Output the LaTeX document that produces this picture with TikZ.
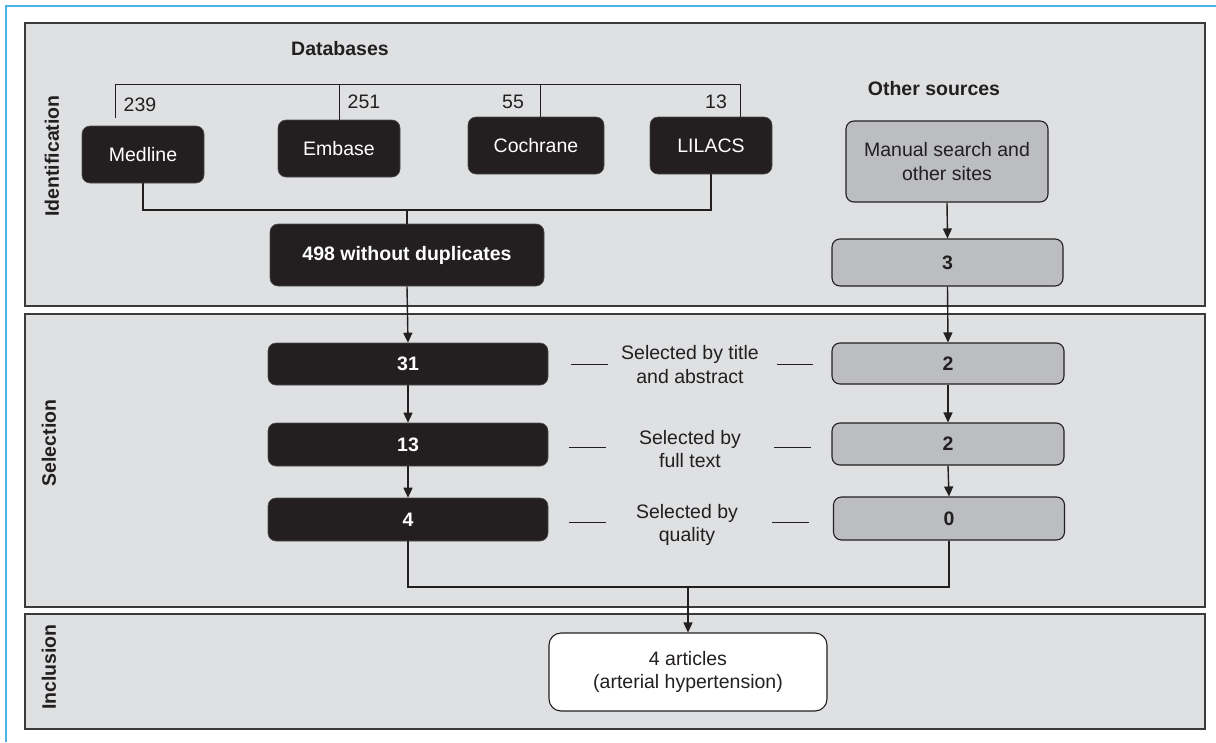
\documentclass[tikz,border=0pt]{standalone}
\usepackage{fontspec}
\setmainfont{Liberation Sans}
\usetikzlibrary{arrows.meta,calc}
\definecolor{panelfill}{HTML}{DFE0E2}
\definecolor{panelline}{HTML}{3A3A3A}
\definecolor{ink}{HTML}{231F20}
\definecolor{greybox}{HTML}{BCBDC0}
\definecolor{frameblue}{HTML}{4DB3E6}
\begin{document}
\begin{tikzpicture}[x=1pt,y=-1pt,
  every node/.style={font=\fontsize{19.5}{23.5}\selectfont, text=ink, inner sep=0pt},
  panel/.style={fill=panelfill, draw=panelline, line width=1.6pt},
  blackbox/.style={rectangle, rounded corners=8pt, fill=ink, draw=ink!80!white, line width=0.6pt, text=white},
  greyrbox/.style={rectangle, rounded corners=8pt, fill=greybox, draw=ink, line width=1.1pt},
  whitebox/.style={rectangle, rounded corners=12pt, fill=white, draw=ink, line width=1.1pt, align=center},
  phase/.style={rotate=90, font=\fontsize{19.5}{23.5}\selectfont\bfseries},
  heading/.style={font=\fontsize{19.5}{23.5}\selectfont\bfseries},
  numbold/.style={font=\fontsize{19.5}{23.5}\selectfont\bfseries},
  conn/.style={draw=ink, line width=1.4pt},
  arr/.style={conn, -{Triangle[length=10pt,width=9pt]}},
  thin/.style={draw=ink, line width=1pt},
  steplabel/.style={align=center}
]
\useasboundingbox (0,0) rectangle (1216,742);
\fill[white] (0,0) rectangle (1216,742);
% blue frame (top and left)
\draw[frameblue, line width=2pt] (6,742) -- (6,6) -- (1216,6);

% panels
\draw[panel] (25,23) rectangle (1205,306);
\draw[panel] (25,314) rectangle (1205,607);
\draw[panel] (25,614) rectangle (1205,729);

% phase labels
\node[phase] (pid) at (52,156) {Identification};
\node[phase] (psel) at (49,443) {Selection};
\node[phase] (pinc) at (49,667) {Inclusion};

% headings
\node[heading] (hdb) at (340,49) {Databases};
\node[heading] (hos) at (934,89) {Other sources};

% database boxes
\node[blackbox, minimum width=122pt, minimum height=57pt] (medline) at (143,154.5) {Medline};
\node[blackbox, minimum width=122pt, minimum height=57pt] (embase) at (339,148.5) {Embase};
\node[blackbox, minimum width=136pt, minimum height=57pt] (cochrane) at (536,145.5) {Cochrane};
\node[blackbox, minimum width=122pt, minimum height=57pt] (lilacs) at (711,145.5) {LILACS};

% bracket
\coordinate (b1) at (115,84);
\coordinate (b2) at (339,84);
\coordinate (b3) at (540,84);
\coordinate (b4) at (740,84);
\draw[thin] (b1 |- medline.north) ++(0,-8) -- (b1) -- (b4) -- (b4 |- lilacs.north);
\draw[thin] (b2) -- (b2 |- embase.north);
\draw[thin] (b3) -- (b3 |- cochrane.north);

\node (n239) at (140,105) {239};
\node (n251) at (364,102) {251};
\node (n55) at (513,102) {55};
\node (n13l) at (716,102) {13};

% merged
\node[blackbox, numbold, minimum width=274pt, minimum height=62pt] (n498) at (407,255) {498 without duplicates};
\coordinate (j) at (407,210);
\draw[conn] (medline.south) |- (j) -| (lilacs.south);
\draw[conn] (j) -- (n498.north);

% other sources
\node[greyrbox, minimum width=202pt, minimum height=81pt, align=center] (manual) at (947,161.5) {Manual search and\\other sites};
\node[greyrbox, numbold, minimum width=231pt, minimum height=47pt] (n3) at (947.5,262.5) {3};
\draw[arr] (manual.south) -- (n3.north);

% selection black boxes
\node[blackbox, numbold, minimum width=280pt, minimum height=42pt] (n31) at (408,364) {31};
\node[blackbox, numbold, minimum width=280pt, minimum height=43pt] (n13) at (408,444.5) {13};
\node[blackbox, numbold, minimum width=280pt, minimum height=43pt] (n4) at (408,519.5) {4};
\draw[arr] (n498.south) -- (n31.north);
\draw[arr] (n31.south) -- (n13.north);
\draw[arr] (n13.south) -- (n4.north);

% selection grey boxes
\node[greyrbox, numbold, minimum width=232pt, minimum height=41pt] (g2a) at (948,363.5) {2};
\node[greyrbox, numbold, minimum width=232pt, minimum height=42pt] (g2b) at (948,444) {2};
\node[greyrbox, numbold, minimum width=231pt, minimum height=43pt] (g0) at (949,518.5) {0};
\draw[arr] (n3.south) -- (g2a.north);
\draw[arr] (g2a.south) -- (g2b.north);
\draw[arr] (g2b.south) -- (g0.north);

% step labels
\node[steplabel] (s1) at (690,364.5) {Selected by title\\and abstract};
\node[steplabel] (s2) at (690,449) {Selected by\\full text};
\node[steplabel] (s3) at (687,525) {Selected by\\quality};
\draw[thin] (571,364) -- (608,364);
\draw[thin] (777,364) -- (813,364);
\draw[thin] (569,447) -- (606,447);
\draw[thin] (774,447) -- (811,447);
\draw[thin] (569,522) -- (606,522);
\draw[thin] (772,522) -- (809,522);

% inclusion
\node[whitebox, minimum width=278pt, minimum height=78pt] (incl) at (688,672) {4 articles\\(arterial hypertension)};
\coordinate (k) at (688,587);
\draw[conn] (n4.south) |- (k);
\draw[conn] (g0.south) |- (k);
\draw[arr] (k) -- (incl.north);
\end{tikzpicture}
\end{document}
